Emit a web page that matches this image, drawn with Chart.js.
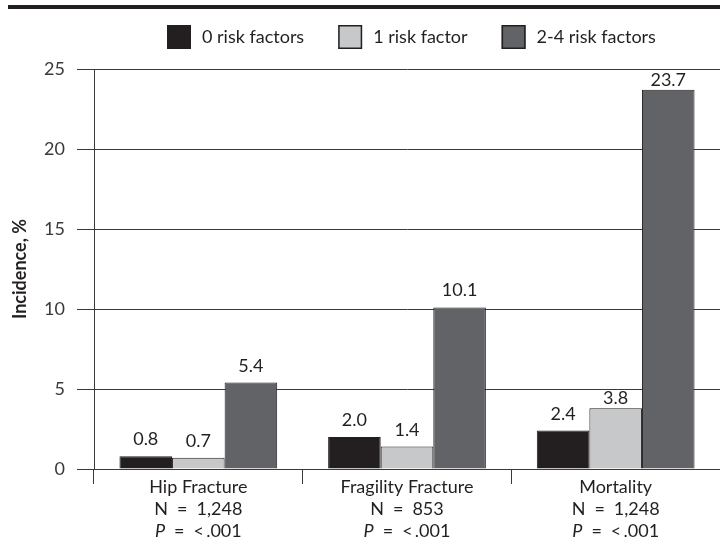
<!DOCTYPE html>
<html>
<head>
<meta charset="utf-8">
<script src="https://cdn.jsdelivr.net/npm/chart.js@4/dist/chart.umd.min.js"></script>
<style>
  html, body { margin: 0; padding: 0; background: #fff; }
</style>
</head>
<body>
<canvas id="chart" width="720" height="542"></canvas>
<script>
const categories = ['Hip Fracture', 'Fragility Fracture', 'Mortality']
const sampleSizes = ['N\u2002=\u20021,248', 'N\u2002=\u2002853', 'N\u2002=\u20021,248']
const pValues = ['<\u2009.001', '<\u2009.001', '<\u2009.001']
const seriesNames = ['0 risk factors', '1 risk factor', '2-4 risk factors']
const zeroRisk = [0.8, 2.0, 2.4]
const oneRisk = [0.7, 1.4, 3.8]
const twoToFourRisk = [5.4, 10.1, 23.7]
const yTicks = [0, 5, 10, 15, 20, 25]

const colors = ['#231f20', '#c7c8ca', '#626366']
const ink = '#231f20'
const FONT = 'Lato, "Open Sans", sans-serif'

// thick rule across the top
const topRule = {
  id: 'topRule',
  beforeDraw(chart) {
    const ctx = chart.ctx
    ctx.save()
    ctx.fillStyle = ink
    ctx.fillRect(8, 5, chart.width - 8, 4)
    ctx.restore()
  }
}

const boxLegend = {
  id: 'boxLegend',
  afterDraw(chart) {
    const ctx = chart.ctx
    ctx.save()
    ctx.font = '18px ' + FONT
    ctx.textBaseline = 'middle'
    let x = 167
    chart.data.datasets.forEach(ds => {
      ctx.fillStyle = ds.backgroundColor
      ctx.fillRect(x, 25, 24, 24)
      ctx.strokeStyle = ink
      ctx.lineWidth = 1.5
      ctx.strokeRect(x + 0.75, 25.75, 22.5, 22.5)
      ctx.fillStyle = ink
      ctx.fillText(ds.label, x + 35, 37)
      x += 35 + ctx.measureText(ds.label).width + 34
    })
    ctx.restore()
  }
}

// value labels above bars; nudged down onto the bar if a gridline would cut through
const barLabels = {
  id: 'barLabels',
  afterDatasetsDraw(chart) {
    const ctx = chart.ctx
    const ys = chart.scales.y
    const gridYs = yTicks.map(v => ys.getPixelForValue(v))
    ctx.save()
    ctx.font = '18px ' + FONT
    ctx.fillStyle = ink
    ctx.textAlign = 'center'
    ctx.textBaseline = 'alphabetic'
    chart.data.datasets.forEach((ds, i) => {
      chart.getDatasetMeta(i).data.forEach((bar, j) => {
        let base = bar.y - 11
        if (gridYs.some(g => g < base + 1 && g > base - 15)) base = bar.y - 4
        ctx.fillText(ds.data[j].toFixed(1), bar.x, base)
      })
    })
    ctx.restore()
  }
}

const categoryLabels = {
  id: 'categoryLabels',
  afterDraw(chart) {
    const ctx = chart.ctx
    const xs = chart.scales.x
    ctx.save()
    ctx.fillStyle = ink
    ctx.textBaseline = 'middle'
    categories.forEach((cat, i) => {
      const cx = xs.getPixelForValue(i)
      ctx.font = '18px ' + FONT
      ctx.textAlign = 'center'
      ctx.fillText(cat, cx, 487)
      ctx.fillText(sampleSizes[i], cx, 509)
      // italic P followed by the rest
      const rest = '\u2002=\u2002' + pValues[i]
      ctx.font = 'italic 18px ' + FONT
      const wp = ctx.measureText('P').width
      ctx.font = '18px ' + FONT
      const wr = ctx.measureText(rest).width
      const left = cx - (wp + wr) / 2
      ctx.textAlign = 'left'
      ctx.font = 'italic 18px ' + FONT
      ctx.fillText('P', left, 531)
      ctx.font = '18px ' + FONT
      ctx.fillText(rest, left + wp, 531)
    })
    ctx.restore()
  }
}

new Chart(document.getElementById('chart'), {
  type: 'bar',
  data: {
    labels: categories,
    datasets: [
      { label: seriesNames[0], data: zeroRisk, backgroundColor: colors[0] },
      { label: seriesNames[1], data: oneRisk, backgroundColor: colors[1] },
      { label: seriesNames[2], data: twoToFourRisk, backgroundColor: colors[2] },
    ].map(ds => Object.assign(ds, {
      borderColor: ink,
      borderWidth: 1,
      categoryPercentage: 0.756,
      barPercentage: 1.0,
    }))
  },
  options: {
    responsive: false,
    animation: false,
    devicePixelRatio: 1,
    layout: { padding: { top: 69, left: 9, right: 0, bottom: 0 } },
    plugins: {
      legend: { display: false },
      tooltip: { enabled: false },
    },
    scales: {
      x: {
        afterFit: scale => { scale.height = 73 },
        ticks: { display: false },
        grid: {
          offset: true,
          drawOnChartArea: false,
          drawTicks: true,
          tickLength: 15,
          color: '#3a3a3a',
        },
        border: { display: true, color: '#3a3a3a' },
      },
      y: {
        min: 0,
        max: 25,
        afterFit: scale => { scale.width = 85 },
        afterBuildTicks: scale => { scale.ticks = yTicks.map(v => ({ value: v })) },
        ticks: {
          color: '#3a3a3a',
          padding: 12,
          font: { family: FONT, size: 18 },
        },
        grid: { color: '#3a3a3a', tickLength: 17 },
        border: { display: true, color: '#3a3a3a' },
        title: {
          display: true,
          text: 'Incidence, %',
          color: ink,
          padding: 0,
          font: { family: FONT, size: 18, weight: 'bold' },
        },
      }
    }
  },
  plugins: [topRule, boxLegend, barLabels, categoryLabels]
})
</script>
</body>
</html>
